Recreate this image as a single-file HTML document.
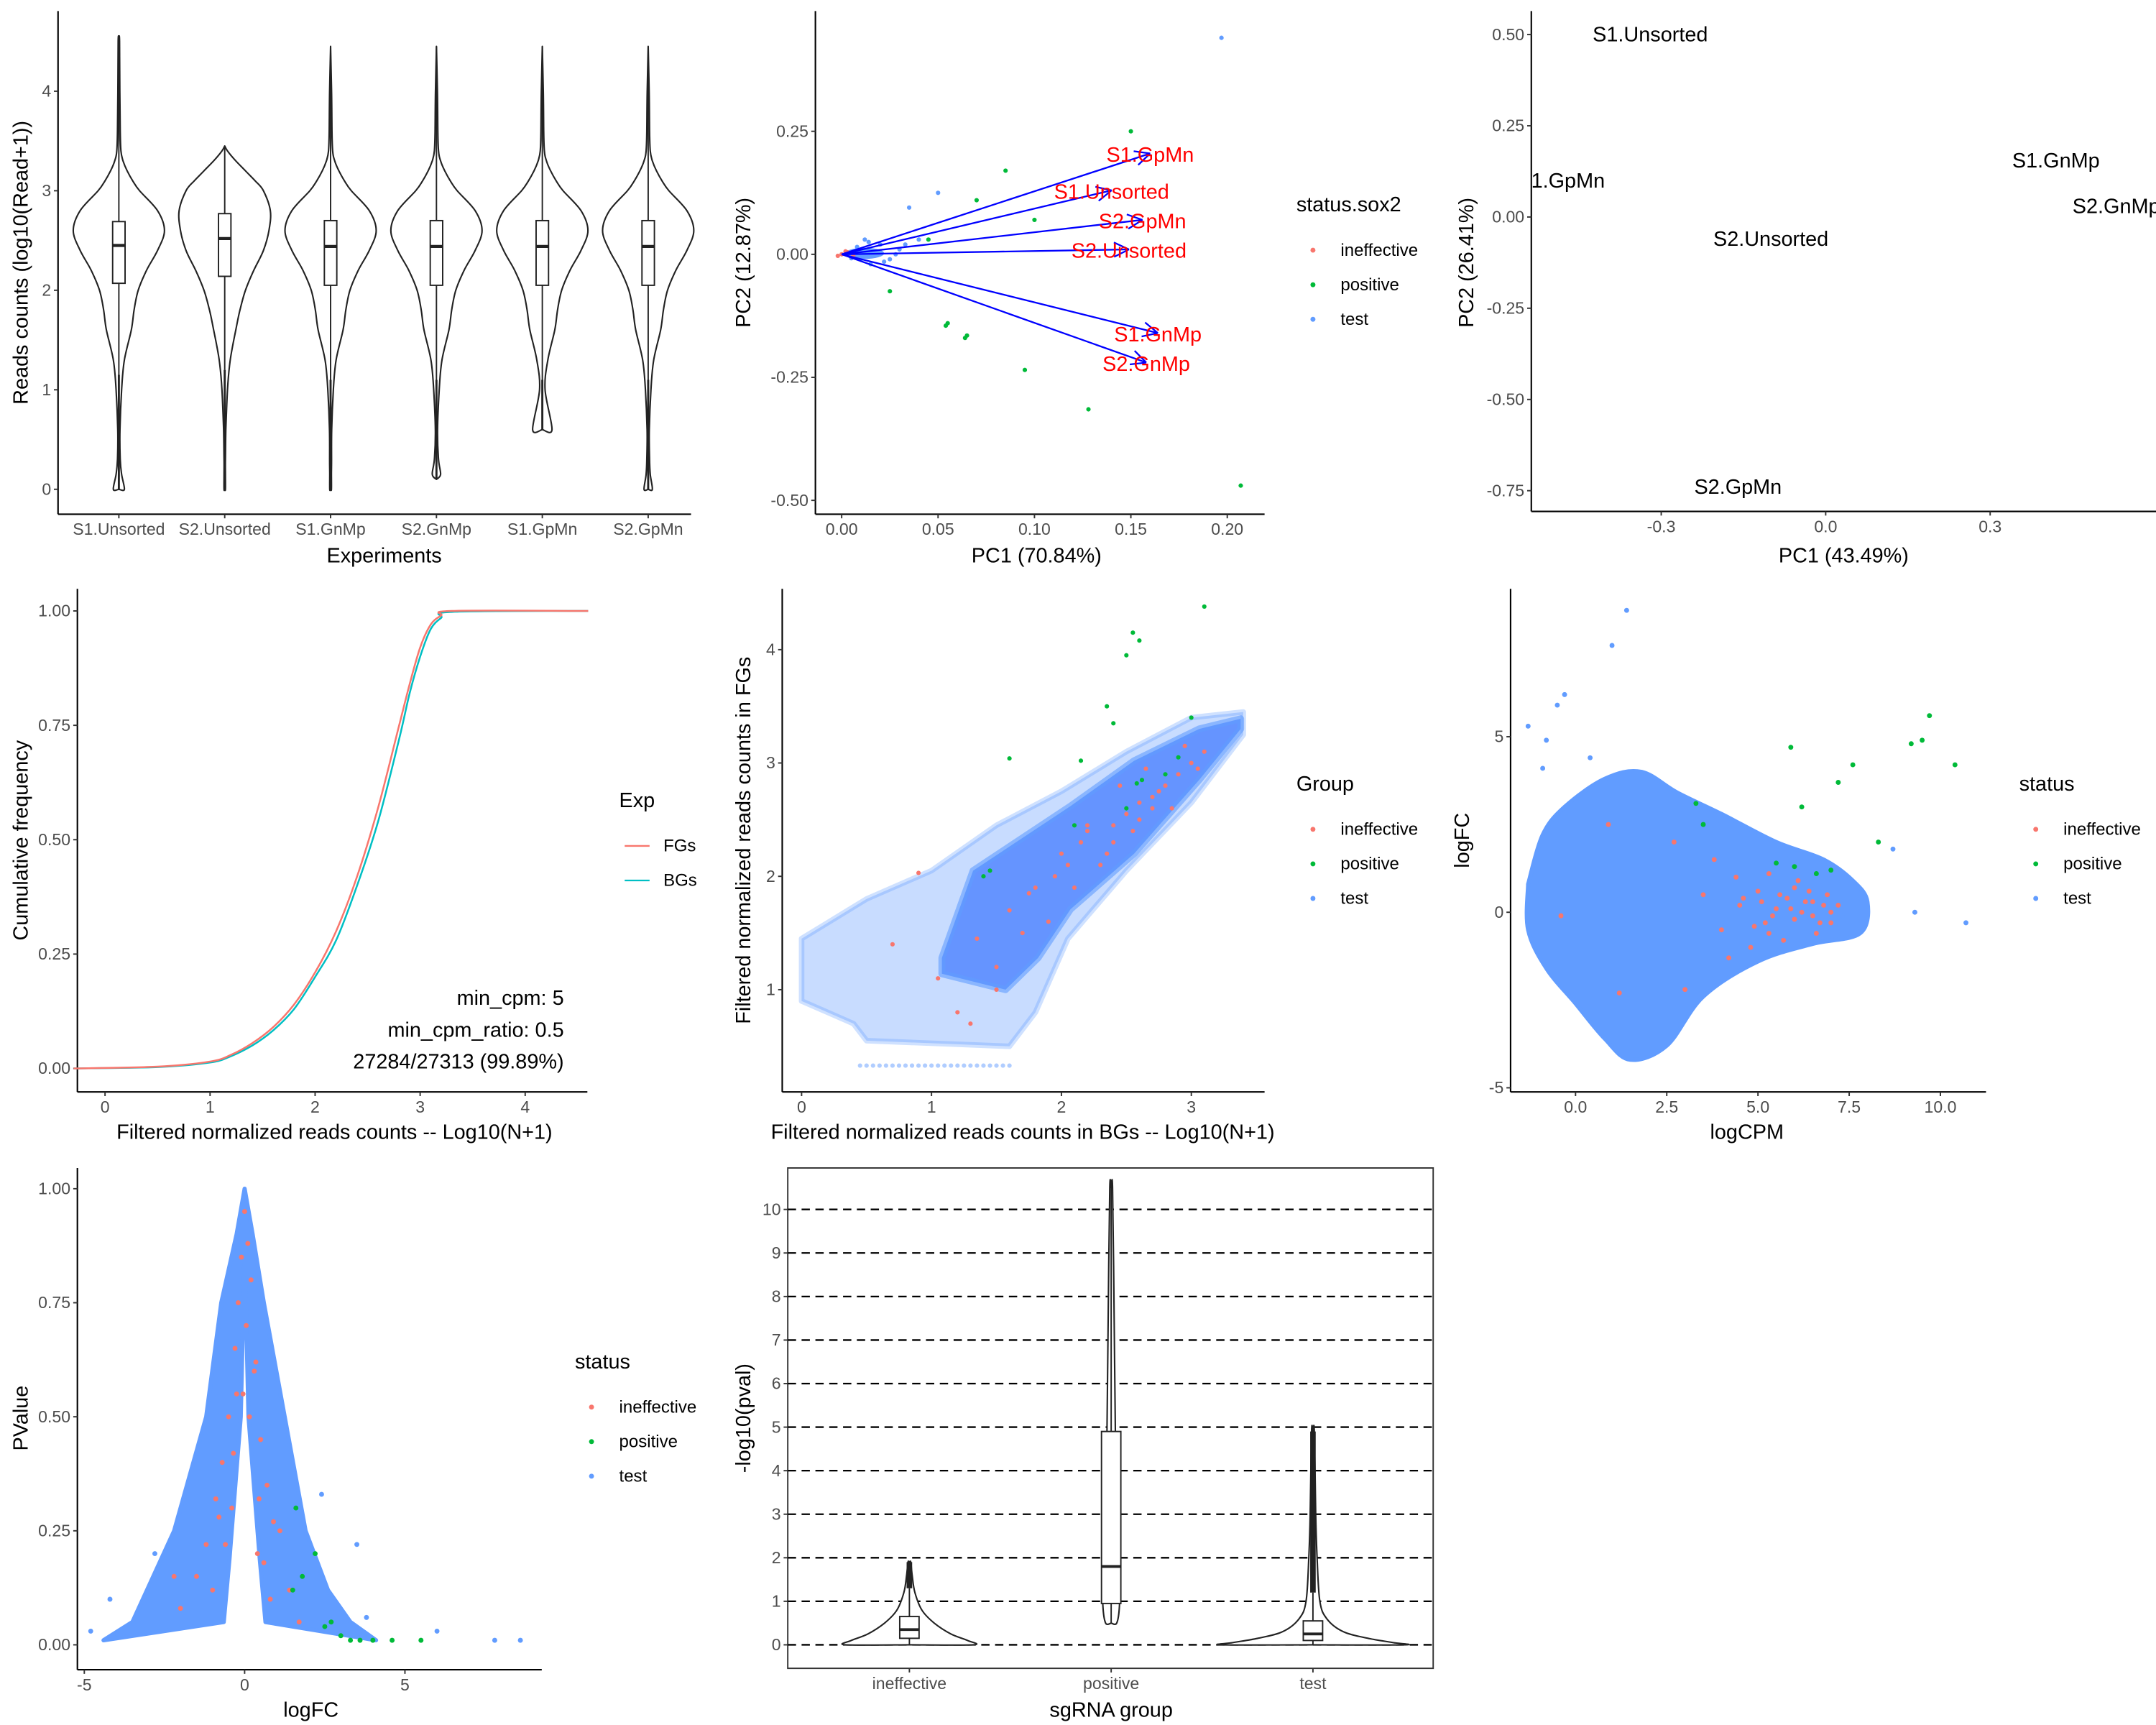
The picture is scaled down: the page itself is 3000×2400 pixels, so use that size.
<!DOCTYPE html>
<html><head><meta charset="utf-8"><style>
html,body{margin:0;padding:0;background:#fff}
svg{display:block}
text{font-family:"Liberation Sans",Arial,sans-serif}
</style></head><body>
<svg id="s" width="3000" height="2400" viewBox="0 0 1560 1248" xmlns="http://www.w3.org/2000/svg"></svg>
<script>
// ---------- data ----------
const expNames=["S1.Unsorted","S2.Unsorted","S1.GnMp","S2.GnMp","S1.GpMn","S2.GpMn"];
const vLevels=[0,0.15,0.3,0.6,1.0,1.3,1.6,1.8,2.0,2.2,2.4,2.6,2.8,3.0,3.1,3.2,3.3,3.4,3.6,4.0,4.5];
const vWidths=[
[4,2,1,0.8,2,4,9,11,14,20,28,33,28,15,10,6,3,1.5,1,0.7,0.5],
[0.5,0.5,0.5,0.8,2,4,8,11,15,21,28,32,33,28,22,15,8,2,0,0,0],
[0.6,0.6,0.7,0.8,2,4,9,11,14,20,28,33,28,15,10,6,3,1.5,1,0.7,0.5],
[0,3,1.5,0.8,2,4,9,11,14,20,28,33,28,15,10,6,3,1.5,1,0.7,0.5],
[0,0,0,7,2,4,9,11,14,20,28,33,28,15,10,6,3,1.5,1,0.7,0.5],
[3,1.5,1,0.8,2,4,9,11,14,20,28,33,28,15,10,6,3,1.5,1,0.7,0.5]];
const vMin=[0,0,0,0.1,0.6,0];
const vMax=[4.55,3.45,4.45,4.45,4.45,4.45];
const boxQ1=[2.07,2.14,2.05,2.05,2.05,2.05];
const boxMed=[2.45,2.52,2.44,2.44,2.44,2.44];
const boxQ3=[2.69,2.77,2.7,2.7,2.7,2.7];
const boxLo=[1.15,1.2,1.1,1.1,1.1,1.1];

const pcaArrowNames=["S1.GpMn","S1.Unsorted","S2.GpMn","S2.Unsorted","S1.GnMp","S2.GnMp"];
const pcaArrowX=[0.16,0.14,0.156,0.149,0.164,0.158];
const pcaArrowY=[0.205,0.13,0.07,0.01,-0.16,-0.22];
const pcaGreenX=[0.15,0.085,0.07,0.1,0.025,0.055,0.054,0.065,0.064,0.095,0.128,0.207,0.045];
const pcaGreenY=[0.25,0.17,0.11,0.07,-0.075,-0.14,-0.145,-0.165,-0.17,-0.235,-0.315,-0.47,0.03];
const pcaBlueX=[0.197,0.05,0.035,0.012,0.02,0.025,0.015,0.03,0.008,0.005,0.018,0.022,0.01,0.028,0.003,0.033,0.04,0.014];
const pcaBlueY=[0.44,0.125,0.095,0.03,0.02,-0.01,-0.02,0.01,0.015,-0.008,0.005,-0.015,-0.01,0.0,0.004,0.02,0.03,0.025];
const pcaRedX=[0.0,0.003,-0.002,0.006,0.002];
const pcaRedY=[0.0,0.004,-0.003,-0.002,0.006];

const pca2Names=["S1.Unsorted","1.GpMn","S1.GnMp","S2.GnMp","S2.Unsorted","S2.GpMn"];
const pca2X=[-0.32,-0.47,0.42,0.53,-0.1,-0.16];
const pca2Y=[0.5,0.1,0.155,0.03,-0.06,-0.74];

const ecdfX=[-0.3,0.5,1.0,1.2,1.4,1.6,1.8,2.0,2.2,2.4,2.6,2.8,2.9,3.0,3.1,3.2,3.3,4.6];
const ecdfFG=[0,0.004,0.015,0.03,0.055,0.09,0.14,0.21,0.3,0.42,0.57,0.75,0.84,0.92,0.97,0.99,1,1];
const ecdfBG=[0,0.003,0.013,0.027,0.05,0.083,0.13,0.2,0.28,0.4,0.54,0.72,0.82,0.9,0.96,0.985,0.998,1];

const scOuterX=[0.0,0.0,0.5,1.0,1.5,2.0,2.5,3.0,3.4,3.4,3.0,2.5,2.05,1.8,1.6,0.5,0.4];
const scOuterY=[0.9,1.45,1.8,2.05,2.45,2.75,3.1,3.4,3.45,3.25,2.65,2.05,1.45,0.8,0.5,0.55,0.7];
const scCoreX=[1.08,1.32,2.07,2.56,3.06,3.38,3.38,3.06,2.56,2.07,1.82,1.57,1.08];
const scCoreY=[1.28,2.05,2.62,3.02,3.3,3.39,3.3,2.85,2.2,1.71,1.28,1.0,1.14];
const scFloorX=[0.45,0.5,0.55,0.6,0.65,0.7,0.75,0.8,0.85,0.9,0.95,1.0,1.05,1.1,1.15,1.2,1.25,1.3,1.35,1.4,1.45,1.5,1.55,1.6];
const scRedX=[0.9,1.05,1.2,1.35,1.5,1.6,1.7,1.8,1.9,2.0,2.1,2.2,2.3,2.4,2.5,2.6,2.7,2.8,2.9,3.0,3.1,2.45,2.65,2.75,2.85,1.3,1.5,2.05,2.2,0.7,2.35,2.55,2.7,2.95,3.05,2.6,2.4,2.15,1.95,1.75];
const scRedY=[2.03,1.1,0.8,1.45,1.2,1.7,1.5,1.9,1.6,2.2,1.9,2.4,2.1,2.3,2.55,2.5,2.7,2.8,2.9,3.0,3.1,2.8,2.95,2.75,2.6,0.7,1.0,2.1,2.45,1.4,2.2,2.4,2.6,3.15,2.95,2.65,2.45,2.3,2.0,1.85];
const scGreenX=[2.55,2.6,2.5,3.1,2.35,2.4,1.6,2.15,3.0,1.4,2.1,2.5,2.8,1.45,2.9,2.58,2.62];
const scGreenY=[4.15,4.08,3.95,4.38,3.5,3.35,3.04,3.02,3.4,2.0,2.45,2.6,2.9,2.05,3.05,2.82,2.85];

const maOuterX=[-1.3,-0.9,-0.3,0.8,1.8,2.8,4,5.5,6.8,7.6,8.0,7.8,6.5,5,3.5,2.5,1.5,0.8,0,-0.8,-1.3];
const maOuterY=[0.8,2.2,3.0,3.8,4.0,3.4,2.8,2.0,1.5,0.9,0.3,-0.6,-0.9,-1.4,-2.4,-3.8,-4.2,-3.6,-2.6,-1.6,-0.5];
const maRedX=[3.5,4.0,4.5,5.0,5.2,5.5,5.8,6.0,6.3,6.5,6.8,7.0,4.8,5.3,6.1,6.6,3.8,4.2,2.7,3.0,5.7,6.9,4.4,5.9,5.1,5.4,5.6,6.2,6.4,6.7,7.2,4.6,4.9,5.3,6.0,6.5,7.0,-0.4,1.2,0.9];
const maRedY=[0.5,-0.5,0.2,0.6,-0.3,0.1,0.4,-0.2,0.3,-0.1,0.2,0.0,-1.0,1.1,0.9,-0.6,1.5,-1.3,2.0,-2.2,-0.8,0.5,1.0,0.1,0.3,-0.1,0.5,0.0,0.6,-0.3,0.2,0.4,-0.4,-0.6,0.7,0.3,-0.3,-0.1,-2.3,2.5];
const maGreenX=[9.7,9.5,9.2,10.4,7.6,7.2,5.9,8.3,6.2,3.3,3.5,5.5,6.0,6.6,7.0];
const maGreenY=[5.6,4.9,4.8,4.2,4.2,3.7,4.7,2.0,3.0,3.1,2.5,1.4,1.3,1.1,1.2];
const maBlueX=[-1.3,-0.5,-0.3,1.0,1.4,9.3,10.7,0.4,-0.8,-0.9,8.7,7.3];
const maBlueY=[5.3,5.9,6.2,7.6,8.6,0.0,-0.3,4.4,4.9,4.1,1.8,-0.1];

const volX=[0,0.25,0.6,1.25,1.9,2.6,3.3,4.1,0.65,0.47,0.12,0.02,0,-0.02,-0.12,-0.47,-0.65,-4.4,-3.5,-2.2,-1.2,-0.73,-0.25];
const volY=[1.0,0.9,0.75,0.5,0.25,0.12,0.05,0.01,0.05,0.19,0.5,0.8,0.86,0.8,0.5,0.19,0.05,0.01,0.05,0.25,0.5,0.75,0.9];
const volRedX=[0,-0.1,0.1,-0.2,0.2,-0.3,0.3,-0.5,0.5,-0.7,0.7,-0.9,0.9,-1.2,1.1,-1.5,1.4,-2.0,-2.2,0.05,-0.05,0.15,-0.4,0.4,-0.6,0.8,-1.0,1.7,-0.25,0.35,-0.35,0.45,-0.8,0.6];
const volRedY=[0.95,0.85,0.88,0.75,0.8,0.65,0.6,0.5,0.45,0.4,0.35,0.32,0.27,0.22,0.25,0.15,0.12,0.08,0.15,0.7,0.55,0.5,0.3,0.2,0.22,0.1,0.12,0.05,0.55,0.62,0.42,0.32,0.28,0.18];
const volGreenX=[1.6,2.2,2.5,3.0,3.3,4.0,4.6,5.5,2.7,1.8,1.5,3.6];
const volGreenY=[0.3,0.2,0.04,0.02,0.01,0.01,0.01,0.01,0.05,0.15,0.12,0.01];
const volBlueX=[8.6,7.8,3.5,-4.8,2.4,-2.8,-4.2,6.0,3.8];
const volBlueY=[0.01,0.01,0.22,0.03,0.33,0.2,0.1,0.03,0.06];

const sgGroups=["ineffective","positive","test"];
const sgLevels=[[0,0.1,0.25,0.5,0.8,1.2,1.6,1.9],[0.5,0.9,1.5,3,5,8,10.5],[0,0.05,0.15,0.3,0.6,1.0,2,3,4.9]];
const sgWidths=[[46,42,30,18,9,4,2,1],[4,6,6,4,3,2,1],[66,58,40,22,10,5,3,2,1]];
const sgQ1=[0.15,0.95,0.1];
const sgMed=[0.35,1.8,0.25];
const sgQ3=[0.65,4.9,0.55];
const sgLo=[0,0.5,0];
const sgHi=[1.3,10.5,1.2];
const sgOutMax=[1.9,10.5,4.9];
const sgTicks=[0,1,2,3,4,5,6,7,8,9,10];

// ---------- helpers ----------
const S=document.getElementById('s');
const NS="http://www.w3.org/2000/svg";
function el(tag,attrs,parent){const e=document.createElementNS(NS,tag);for(const k in attrs)e.setAttribute(k,attrs[k]);(parent||S).appendChild(e);return e;}
function lin(d0,d1,r0,r1){return v=>r0+(v-d0)*(r1-r0)/(d1-d0);}
function txt(x,y,s,o,parent){const t=el('text',Object.assign({x:x,y:y,'font-size':12,fill:'#4d4d4d'},o||{}),parent);t.textContent=s;return t;}
function group(name){const g=el('g',{});return g;}
function axes(g,x0,y0,x1,y1){el('line',{x1:x0,y1:y0,x2:x0,y2:y1,stroke:'#000','stroke-width':1.1},g);el('line',{x1:x0,y1:y1,x2:x1,y2:y1,stroke:'#000','stroke-width':1.1},g);}
function yTicks(g,x0,vals,labels,sy){vals.forEach((v,i)=>{el('line',{x1:x0-3,x2:x0,y1:sy(v),y2:sy(v),stroke:'#333'},g);txt(x0-5,sy(v)+4,labels[i],{'text-anchor':'end'},g);});}
function xTicks(g,y0,vals,labels,sx){vals.forEach((v,i)=>{el('line',{x1:sx(v),x2:sx(v),y1:y0,y2:y0+3,stroke:'#333'},g);txt(sx(v),y0+15,labels[i],{'text-anchor':'middle'},g);});}
function title(g,x,y,s,rot){const o={'font-size':15,fill:'#000','text-anchor':'middle'};if(rot)o.transform=`rotate(-90 ${x} ${y})`;return txt(x,y,s,o,g);}
function dot(g,x,y,c,r){el('circle',{cx:x,cy:y,r:r||1.8,fill:c},g);}
function legend(g,x,y,ttl,items,cols,line){txt(x,y,ttl,{'font-size':15,fill:'#000'},g);items.forEach((s,i)=>{const yy=y+28+i*25;if(line)el('line',{x1:x+4,x2:x+22,y1:yy,y2:yy,stroke:cols[i],'stroke-width':1.2},g);else dot(g,x+12,yy,cols[i],1.8);txt(x+32,yy+4,s,{'font-size':12.5,fill:'#000'},g);});}
function poly(xs,ys,sx,sy){return xs.map((v,i)=>sx(v).toFixed(1)+','+sy(ys[i]).toFixed(1)).join(' ');}
function smooth(p){ // catmull-rom open path
 let d='M'+p[0][0].toFixed(1)+','+p[0][1].toFixed(1);
 for(let i=0;i<p.length-1;i++){const p0=p[Math.max(0,i-1)],p1=p[i],p2=p[i+1],p3=p[Math.min(p.length-1,i+2)];
  const c1=[p1[0]+(p2[0]-p0[0])/6,p1[1]+(p2[1]-p0[1])/6],c2=[p2[0]-(p3[0]-p1[0])/6,p2[1]-(p3[1]-p1[1])/6];
  d+=` C${c1[0].toFixed(1)},${c1[1].toFixed(1)} ${c2[0].toFixed(1)},${c2[1].toFixed(1)} ${p2[0].toFixed(1)},${p2[1].toFixed(1)}`;}
 return d;}
function violinPath(cx,levels,widths,sy,lo,hi){
 const R=[[cx,sy(lo)]];
 levels.forEach((lv,j)=>{if(lv<lo||lv>hi)return;R.push([cx+widths[j],sy(lv)]);});
 R.push([cx,sy(hi)]);
 const L=R.map(p=>[2*cx-p[0],p[1]]);
 const r=smooth(R), l=smooth(L.reverse());
 return r+' L'+l.slice(1)+' Z';}
const RED='#F8766D',GRN='#00BA38',BLU='#619CFF';

// ---------- Panel 1: violins ----------
(function(){
const g=group('violin-panel');
const sy=lin(0,4,354,66); const cx=i=>86+i*76.6;
axes(g,42,8,500,372);
yTicks(g,42,[0,1,2,3,4],["0","1","2","3","4"],sy);
xTicks(g,372,[0,1,2,3,4,5],expNames,cx);
expNames.forEach((n,i)=>{
 const vg=group('violin-'+n); g.appendChild(vg);
 el('path',{d:violinPath(cx(i),vLevels,vWidths[i],sy,vMin[i],vMax[i]),fill:'none',stroke:'#222','stroke-width':1.1,'stroke-linejoin':'round'},vg);
 el('line',{x1:cx(i),x2:cx(i),y1:sy(vMax[i]),y2:sy(boxQ3[i]),stroke:'#222'},vg);
 el('line',{x1:cx(i),x2:cx(i),y1:sy(boxQ1[i]),y2:sy(boxLo[i]),stroke:'#222'},vg);
 el('line',{x1:cx(i),x2:cx(i),y1:sy(boxLo[i]),y2:sy(vMin[i]),stroke:'#222','stroke-width':1.5},vg);
 el('rect',{x:cx(i)-4.5,y:sy(boxQ3[i]),width:9,height:sy(boxQ1[i])-sy(boxQ3[i]),fill:'#fff',stroke:'#222'},vg);
 el('line',{x1:cx(i)-4.5,x2:cx(i)+4.5,y1:sy(boxMed[i]),y2:sy(boxMed[i]),stroke:'#222','stroke-width':2.2},vg);
});
title(g,278,407,'Experiments'); title(g,20,190,'Reads counts (log10(Read+1))',true);
})();

// ---------- Panel 2: PCA biplot ----------
(function(){
const g=group('pca-biplot-panel');
const sx=lin(0,0.2,609,888), sy=lin(0,0.25,184,95);
axes(g,590,8,915,372);
yTicks(g,590,[0.25,0,-0.25,-0.5],["0.25","0.00","-0.25","-0.50"],sy);
xTicks(g,372,[0,0.05,0.1,0.15,0.2],["0.00","0.05","0.10","0.15","0.20"],sx);
pcaBlueX.forEach((v,i)=>dot(g,sx(v),sy(pcaBlueY[i]),BLU,1.6));
el('ellipse',{cx:sx(0.012),cy:sy(0.002),rx:14,ry:4,fill:BLU},g);
pcaGreenX.forEach((v,i)=>dot(g,sx(v),sy(pcaGreenY[i]),GRN,1.6));
pcaRedX.forEach((v,i)=>dot(g,sx(v),sy(pcaRedY[i]),RED,1.6));
pcaArrowNames.forEach((n,i)=>{
 const x2=sx(pcaArrowX[i]),y2=sy(pcaArrowY[i]),x1=sx(0),y1=sy(0);
 const a=Math.atan2(y2-y1,x2-x1);
 const ag=group('arrow-'+n); g.appendChild(ag);
 el('line',{x1:x1,y1:y1,x2:x2,y2:y2,stroke:'#0000ff','stroke-width':1.2},ag);
 [0.45,-0.45].forEach(d=>el('line',{x1:x2,y1:y2,x2:x2-12*Math.cos(a+d),y2:y2-12*Math.sin(a+d),stroke:'#0000ff','stroke-width':1.2},ag));
 txt(x2,y2+6,n,{'font-size':15,fill:'#ff0000','text-anchor':'middle'},ag);
});
title(g,750,407,'PC1 (70.84%)'); title(g,543,190,'PC2 (12.87%)',true);
legend(g,938,153,'status.sox2',['ineffective','positive','test'],[RED,GRN,BLU]);
})();

// ---------- Panel 3: PCA samples ----------
(function(){
const g=group('pca-samples-panel');
const sx=lin(0,0.3,1321,1440), sy=lin(0,0.25,157,91);
axes(g,1108,8,1560,370);
yTicks(g,1108,[0.5,0.25,0,-0.25,-0.5,-0.75],["0.50","0.25","0.00","-0.25","-0.50","-0.75"],sy);
xTicks(g,370,[-0.3,0,0.3],["-0.3","0.0","0.3"],sx);
pca2Names.forEach((n,i)=>txt(sx(pca2X[i]),sy(pca2Y[i])+5,n,{'font-size':15,fill:'#000','text-anchor':'middle'},g));
title(g,1334,407,'PC1 (43.49%)'); title(g,1066,190,'PC2 (26.41%)',true);
})();

// ---------- Panel 4: ECDF ----------
(function(){
const g=group('ecdf-panel');
const sx=lin(0,1,76,152), sy=lin(0,1,773,442);
axes(g,56,426,425,790);
yTicks(g,56,[0,0.25,0.5,0.75,1],["0.00","0.25","0.50","0.75","1.00"],sy);
xTicks(g,790,[0,1,2,3,4],["0","1","2","3","4"],sx);
el('path',{d:smooth(ecdfX.map((v,i)=>[sx(v),sy(ecdfBG[i])])),fill:'none',stroke:'#00BFC4','stroke-width':1.3},g);
el('path',{d:smooth(ecdfX.map((v,i)=>[sx(v),sy(ecdfFG[i])])),fill:'none',stroke:RED,'stroke-width':1.3},g);
txt(408,727,'min_cpm: 5',{'font-size':15,fill:'#000','text-anchor':'end'},g);
txt(408,750,'min_cpm_ratio: 0.5',{'font-size':15,fill:'#000','text-anchor':'end'},g);
txt(408,773,'27284/27313 (99.89%)',{'font-size':15,fill:'#000','text-anchor':'end'},g);
title(g,242,824,'Filtered normalized reads counts -- Log10(N+1)'); title(g,20,608,'Cumulative frequency',true);
legend(g,448,584,'Exp',['FGs','BGs'],[RED,'#00BFC4'],true);
})();

// ---------- Panel 5: FG vs BG scatter ----------
(function(){
const g=group('fg-bg-scatter-panel');
const sx=lin(0,1,580,674), sy=lin(1,2,716,634);
axes(g,566,426,915,790);
yTicks(g,566,[1,2,3,4],["1","2","3","4"],sy);
xTicks(g,790,[0,1,2,3],["0","1","2","3"],sx);
el('polygon',{points:poly(scOuterX,scOuterY,sx,sy),fill:'rgba(97,156,255,0.35)','stroke':'rgba(97,156,255,0.3)','stroke-width':4,'stroke-linejoin':'round'},g);
el('polygon',{points:poly(scCoreX,scCoreY,sx,sy),fill:'rgba(90,140,255,0.9)','stroke':'rgba(97,156,255,0.6)','stroke-width':5,'stroke-linejoin':'round'},g);
scFloorX.forEach(v=>dot(g,sx(v),sy(0.33),'rgba(97,156,255,0.5)',1.6));
scRedX.forEach((v,i)=>dot(g,sx(v),sy(scRedY[i]),RED,1.6));
scGreenX.forEach((v,i)=>dot(g,sx(v),sy(scGreenY[i]),GRN,1.6));
title(g,740,824,'Filtered normalized reads counts in BGs -- Log10(N+1)'); title(g,543,608,'Filtered normalized reads counts in FGs',true);
legend(g,938,572,'Group',['ineffective','positive','test'],[RED,GRN,BLU]);
})();

// ---------- Panel 6: MA ----------
(function(){
const g=group('ma-plot-panel');
const sx=lin(0,2.5,1140,1206), sy=lin(0,5,660,533);
axes(g,1093,426,1437,790);
yTicks(g,1093,[-5,0,5],["-5","0","5"],sy);
xTicks(g,790,[0,2.5,5,7.5,10],["0.0","2.5","5.0","7.5","10.0"],sx);
el('path',{d:smooth(maOuterX.map((v,i)=>[sx(v),sy(maOuterY[i])]).concat([[sx(maOuterX[0]),sy(maOuterY[0])]]))+'Z',fill:BLU,stroke:BLU,'stroke-width':3,'stroke-linejoin':'round'},g);
maBlueX.forEach((v,i)=>dot(g,sx(v),sy(maBlueY[i]),BLU,1.8));
maRedX.forEach((v,i)=>dot(g,sx(v),sy(maRedY[i]),RED,1.8));
maGreenX.forEach((v,i)=>dot(g,sx(v),sy(maGreenY[i]),GRN,1.8));
title(g,1264,824,'logCPM'); title(g,1063,608,'logFC',true);
legend(g,1461,572,'status',['ineffective','positive','test'],[RED,GRN,BLU]);
})();

// ---------- Panel 7: volcano ----------
(function(){
const g=group('volcano-panel');
const sx=lin(0,5,177,293), sy=lin(0,1,1190,860);
axes(g,56,845,392,1208);
yTicks(g,56,[0,0.25,0.5,0.75,1],["0.00","0.25","0.50","0.75","1.00"],sy);
xTicks(g,1208,[-5,0,5],["-5","0","5"],sx);
el('polygon',{points:poly(volX,volY,sx,sy),fill:BLU,stroke:BLU,'stroke-width':3,'stroke-linejoin':'round'},g);
volBlueX.forEach((v,i)=>dot(g,sx(v),sy(volBlueY[i]),BLU,1.8));
volRedX.forEach((v,i)=>dot(g,sx(v),sy(volRedY[i]),RED,1.8));
volGreenX.forEach((v,i)=>dot(g,sx(v),sy(volGreenY[i]),GRN,1.8));
title(g,225,1242,'logFC'); title(g,20,1026,'PValue',true);
legend(g,416,990,'status',['ineffective','positive','test'],[RED,GRN,BLU]);
})();

// ---------- Panel 8: sgRNA violins ----------
(function(){
const g=group('sgrna-violin-panel');
const sy=lin(0,10,1190,875); const cx=i=>658+i*146;
el('rect',{x:570,y:845,width:467,height:362,fill:'none',stroke:'#333','stroke-width':1},g);
sgTicks.forEach(v=>{el('line',{x1:570,x2:1037,y1:sy(v),y2:sy(v),stroke:'#000','stroke-width':1.2,'stroke-dasharray':'6,4'},g);});
yTicks(g,570,sgTicks,sgTicks.map(String),sy);
xTicks(g,1207,[0,1,2],sgGroups,cx);
sgGroups.forEach((n,i)=>{
 const vg=group('violin-'+n); g.appendChild(vg);
 const lv=sgLevels[i];
 el('path',{d:violinPath(cx(i),lv,sgWidths[i],sy,lv[0],lv[lv.length-1]),fill:'#fff',stroke:'#222','stroke-width':1.1,'stroke-linejoin':'round'},vg);
 el('line',{x1:cx(i),x2:cx(i),y1:sy(sgQ3[i]),y2:sy(sgHi[i]),stroke:'#222'},vg);
 el('line',{x1:cx(i),x2:cx(i),y1:sy(sgHi[i]),y2:sy(sgOutMax[i]),stroke:'#222','stroke-width':i==1?1:4},vg);
 el('line',{x1:cx(i),x2:cx(i),y1:sy(sgQ1[i]),y2:sy(sgLo[i]),stroke:'#222'},vg);
 el('rect',{x:cx(i)-7,y:sy(sgQ3[i]),width:14,height:sy(sgQ1[i])-sy(sgQ3[i]),fill:'#fff',stroke:'#222'},vg);
 el('line',{x1:cx(i)-7,x2:cx(i)+7,y1:sy(sgMed[i]),y2:sy(sgMed[i]),stroke:'#222','stroke-width':2},vg);
});
title(g,804,1242,'sgRNA group'); title(g,543,1026,'-log10(pval)',true);
})();
</script>
</body></html>
